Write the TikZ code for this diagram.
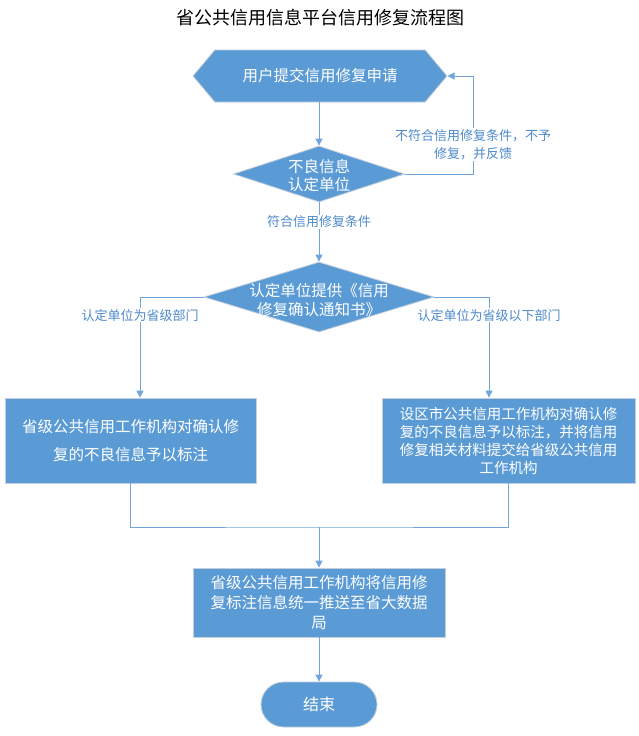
\documentclass[tikz,border=0pt]{standalone}
\usepackage{fontspec}
\setmainfont{Noto Sans CJK SC}
\usetikzlibrary{shapes.geometric,shapes.symbols,arrows.meta}
\definecolor{flowblue}{RGB}{91,155,213}
\definecolor{linkblue}{RGB}{112,166,220}
\definecolor{edgegray}{RGB}{196,206,220}
\definecolor{lbltext}{RGB}{78,138,204}
\newcommand{\fsz}[2]{\fontsize{#1}{#2}\selectfont}

\begin{document}
\begin{tikzpicture}[x=1pt, y=-1pt,
  blk/.style={fill=flowblue, draw=edgegray, line width=0.8pt, text=white,
    align=center, inner sep=0pt},
  wtxt/.style={text=white, align=center, inner sep=0pt},
  ln/.style={draw=linkblue, line width=0.9pt},
  arr/.style={ln, -{Triangle[width=7pt,length=7pt]}},
  lbl/.style={fill=white, text=lbltext, align=center, inner sep=1pt,
    font=\fsz{13}{18}}]

  \useasboundingbox (0,0) rectangle (639,736);

  \node[font=\fsz{18}{22}] (title) at (320,18) {省公共信用信息平台信用修复流程图};

  %% shapes
  \node[blk, signal, signal to=west and east, signal pointer angle=100,
    minimum width=254pt, minimum height=52pt, font=\fsz{15.5}{19}]
    (apply) at (320,76) {用户提交信用修复申请};
  \node[blk, diamond, minimum width=171pt, minimum height=56pt] (check) at (319,174) {};
  \node[wtxt, font=\fsz{15.5}{18}] at (319,175.5) {不良信息\\认定单位};
  \node[blk, diamond, minimum width=230pt, minimum height=70pt] (notice) at (319,297) {};
  \node[wtxt, font=\fsz{15.5}{19}] at (319,300) {认定单位提供《信用\\修复确认通知书》};
  \node[blk, rectangle, minimum width=251pt, minimum height=85pt, font=\fsz{15.5}{28}]
    (prov) at (130.5,440.5) {省级公共信用工作机构对确认修\\复的不良信息予以标注};
  \node[blk, rectangle, minimum width=253pt, minimum height=85pt, font=\fsz{14.5}{18}]
    (city) at (508.5,440.5) {设区市公共信用工作机构对确认修\\复的不良信息予以标注，并将信用\\修复相关材料提交给省级公共信用\\工作机构};
  \node[blk, rectangle, minimum width=252pt, minimum height=69pt, font=\fsz{15.5}{20}]
    (push) at (319,602.5) {省级公共信用工作机构将信用修\\复标注信息统一推送至省大数据\\局};
  \node[blk, rectangle, rounded corners=22.5pt, minimum width=116pt, minimum height=45pt,
    font=\fsz{16}{20}] (fin) at (319,704.5) {结束};

  \coordinate (fb) at (473,174);
  \coordinate (mrg) at (319,527);

  %% connectors
  \draw[arr] (apply.south -| check) -- (check.north); % apply->check
  \draw[arr] (check.east) -- (fb) |- (apply.east)
    node[lbl, pos=0.15] (nofix) {不符合信用修复条件，不予\\修复，并反馈}; % check->apply
  \draw[arr] (check.south) -- (notice.north)
    node[lbl, pos=0.33] (okfix) {符合信用修复条件}; % check->notice
  \draw[arr] (notice.west) -| ([xshift=9.5pt]prov.north)
    node[lbl, pos=0.59] (toprov) {认定单位为省级部门}; % notice->prov
  \draw[arr] (notice.east) -| ([xshift=-19.5pt]city.north)
    node[lbl, pos=0.59] (tocity) {认定单位为省级以下部门}; % notice->city

  \draw[ln] (prov.south) |- (mrg) -| (city.south); % prov,city->mrg
  \draw[arr] (mrg) -- (push.north); % mrg->push
  \draw[arr] (push.south) -- (fin.north); % push->fin

\end{tikzpicture}
\end{document}
